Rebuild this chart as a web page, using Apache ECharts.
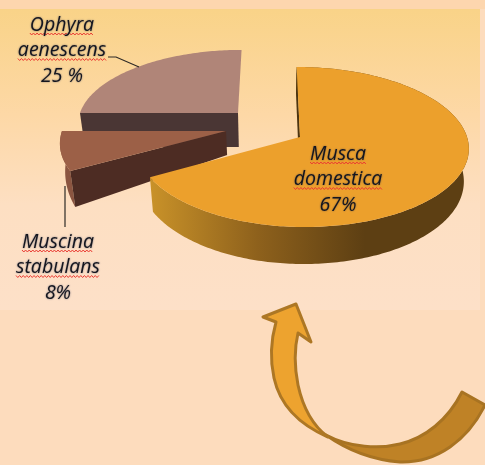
<!DOCTYPE html>
<html><head><meta charset="utf-8">
<style>html,body{margin:0;padding:0;background:#fddcbd}#c{width:485px;height:465px}</style>
<script src="https://cdn.jsdelivr.net/npm/echarts@6/dist/echarts.min.js"></script>
</head><body><div id="c"></div>
<script>
const categories = ['Musca domestica', 'Muscina stabulans', 'Ophyra aenescens'];
const values = [67, 8, 25];
const valueLabels = ['67%', '8%', '25 %'];
const sliceColors = ['#eca02c', '#9c6047', '#b08578'];

const VPX = 270, K = 0.125, BOTTOM_SCALE = 0.975, FONT = 'italic 19.5px "Open Sans"';
const layout = [
  {x0:300,y0:137,B:167,Bl:163,A:78.75,d0:32,d1:5,  wall:'#4d3510',rim:'grad',   lx:338,ly:154},
  {x0:226,y0:131,B:164,Bl:164,A:78,   d0:24,d1:25, wall:'#4d2c23',rim:'#8b5540',lx:58, ly:242},
  {x0:238,y0:113,B:158,Bl:158,A:71,   d0:34,d1:0,  wall:'#4a3634',rim:null,     lx:62, ly:25}
];
const total = values.reduce((a,b)=>a+b,0);

function project(s,t,bottom){
  const X=Math.sin(t), Y=-Math.cos(t), g=1/(1-K*Y);
  let x=VPX+(s.x0-VPX+(X<0?s.Bl:s.B)*X)*g, y=s.y0+s.A*Y*g;
  if(bottom){ x=VPX+(x-VPX)*BOTTOM_SCALE; y+=(s.d0+s.d1*Y); }
  return [x,y];
}
function apex(s,bottom){
  return bottom?[VPX+(s.x0-VPX)*BOTTOM_SCALE,s.y0+s.d0]:[s.x0,s.y0];
}
function zigzag(x1,x2,y){
  const p=[];let i=0;
  for(let x=x1;x<=x2;x+=1.8,i++)p.push([x,y+(i%2?1:-1)]);
  return p;
}
const meas=document.createElement('canvas').getContext('2d');
meas.font=FONT;

function renderItem(params,api){
  const i=api.value(0), s=layout[i];
  let before=0; for(let k=0;k<i;k++)before+=values[k];
  const t0=before/total*2*Math.PI, t1=(before+api.value(1))/total*2*Math.PI;
  const top=[],bot=[];
  const n=Math.ceil((t1-t0)/(Math.PI/180));
  for(let k=0;k<=n;k++){const t=t0+(t1-t0)*k/n;top.push(project(s,t,false));bot.push(project(s,t,true));}
  const A=apex(s,false),Ab=apex(s,true);
  const kids=[];
  const z=10+(2-i)*10;
  const rimFill=s.rim==='grad'?{type:'linear',global:true,x:150,y:0,x2:365,y2:0,
    colorStops:[{offset:0,color:'#c99229'},{offset:.5,color:'#8e611c'},{offset:1,color:'#5d3f13'}]}:s.rim;
  if(s.rim)kids.push({type:'polygon',z2:z+2,shape:{points:top.concat(bot.slice().reverse())},style:{fill:rimFill}});
  kids.push({type:'polygon',z2:z+3,shape:{points:[top[0],A,Ab,bot[0]]},style:{fill:s.wall}});
  kids.push({type:'polygon',z2:z+4,shape:{points:top.concat([A])},style:{fill:sliceColors[i]}});
  const lines=categories[i].split(' ').concat([valueLabels[i]]);
  lines.forEach((ln,j)=>{
    const y=s.ly+j*25.5;
    kids.push({type:'text',z2:60,style:{text:ln,x:s.lx,y:y,align:'center',verticalAlign:'middle',
      font:FONT,fill:'#14161f',textShadowColor:'rgba(20,30,70,.55)',textShadowBlur:2}});
    if(j<2){
      const w=meas.measureText(ln).width/2;
      kids.push({type:'polyline',z2:59,shape:{points:zigzag(s.lx-w,s.lx+w,y+9)},style:{stroke:'#ea3b33',lineWidth:1,fill:null}});
    }
  });
  return {type:'group',children:kids};
}

const arrowFront='M328 437 C312 425 303 408 298 385 C294 365 294 350 298 333 L311 342 L296 304 L263 317 L276 322 C271 340 270 360 274 378 C280 405 298 424 328 437 Z';
const arrowTail='M462 392 C448 420 425 438 400 444 C380 449 350 448 326 435 C350 452 375 460 400 462 C437 463 468 440 485 405 Z';

function renderArrow(){
  return {type:'group',children:[
    {type:'path',z2:1,shape:{pathData:arrowTail},style:{fill:'#bf8226',stroke:'#a87322',lineWidth:3,lineJoin:'round'}},
    {type:'path',z2:2,shape:{pathData:arrowFront},style:{fill:'#eda32f',stroke:'#ad7724',lineWidth:3,lineJoin:'round'}}
  ]};
}

const chart=echarts.init(document.getElementById('c'),null,{renderer:'canvas'});
chart.setOption({
  animation:false,
  backgroundColor:'#fddcbd',
  graphic:[
    {type:'rect',z:-5,shape:{x:0,y:0,width:485,height:9},style:{fill:'#fdd6ae'}},
    {type:'rect',z:-4,shape:{x:0,y:9,width:480,height:301},style:{fill:{type:'linear',x:0,y:0,x2:0,y2:1,
      colorStops:[{offset:0,color:'#f9d388'},{offset:.35,color:'#fdd8a6'},{offset:.65,color:'#fddfc2'},{offset:1,color:'#fde0c8'}]}}},
    {type:'polyline',z:5,shape:{points:[[108,57],[116,57],[139,67]]},style:{stroke:'#2e2a26',lineWidth:1.2,fill:null}},
    {type:'polyline',z:5,shape:{points:[[65,186],[65,227]]},style:{stroke:'#2e2a26',lineWidth:1.2,fill:null}}
  ],
  series:[{
    type:'custom',coordinateSystem:'none',z:2,silent:true,
    data:[2,1,0].map(i=>[i,values[i]]),
    renderItem:renderItem
  },{
    type:'custom',coordinateSystem:'none',z:3,silent:true,
    data:[[0]],
    renderItem:renderArrow
  }]
});
</script></body></html>
